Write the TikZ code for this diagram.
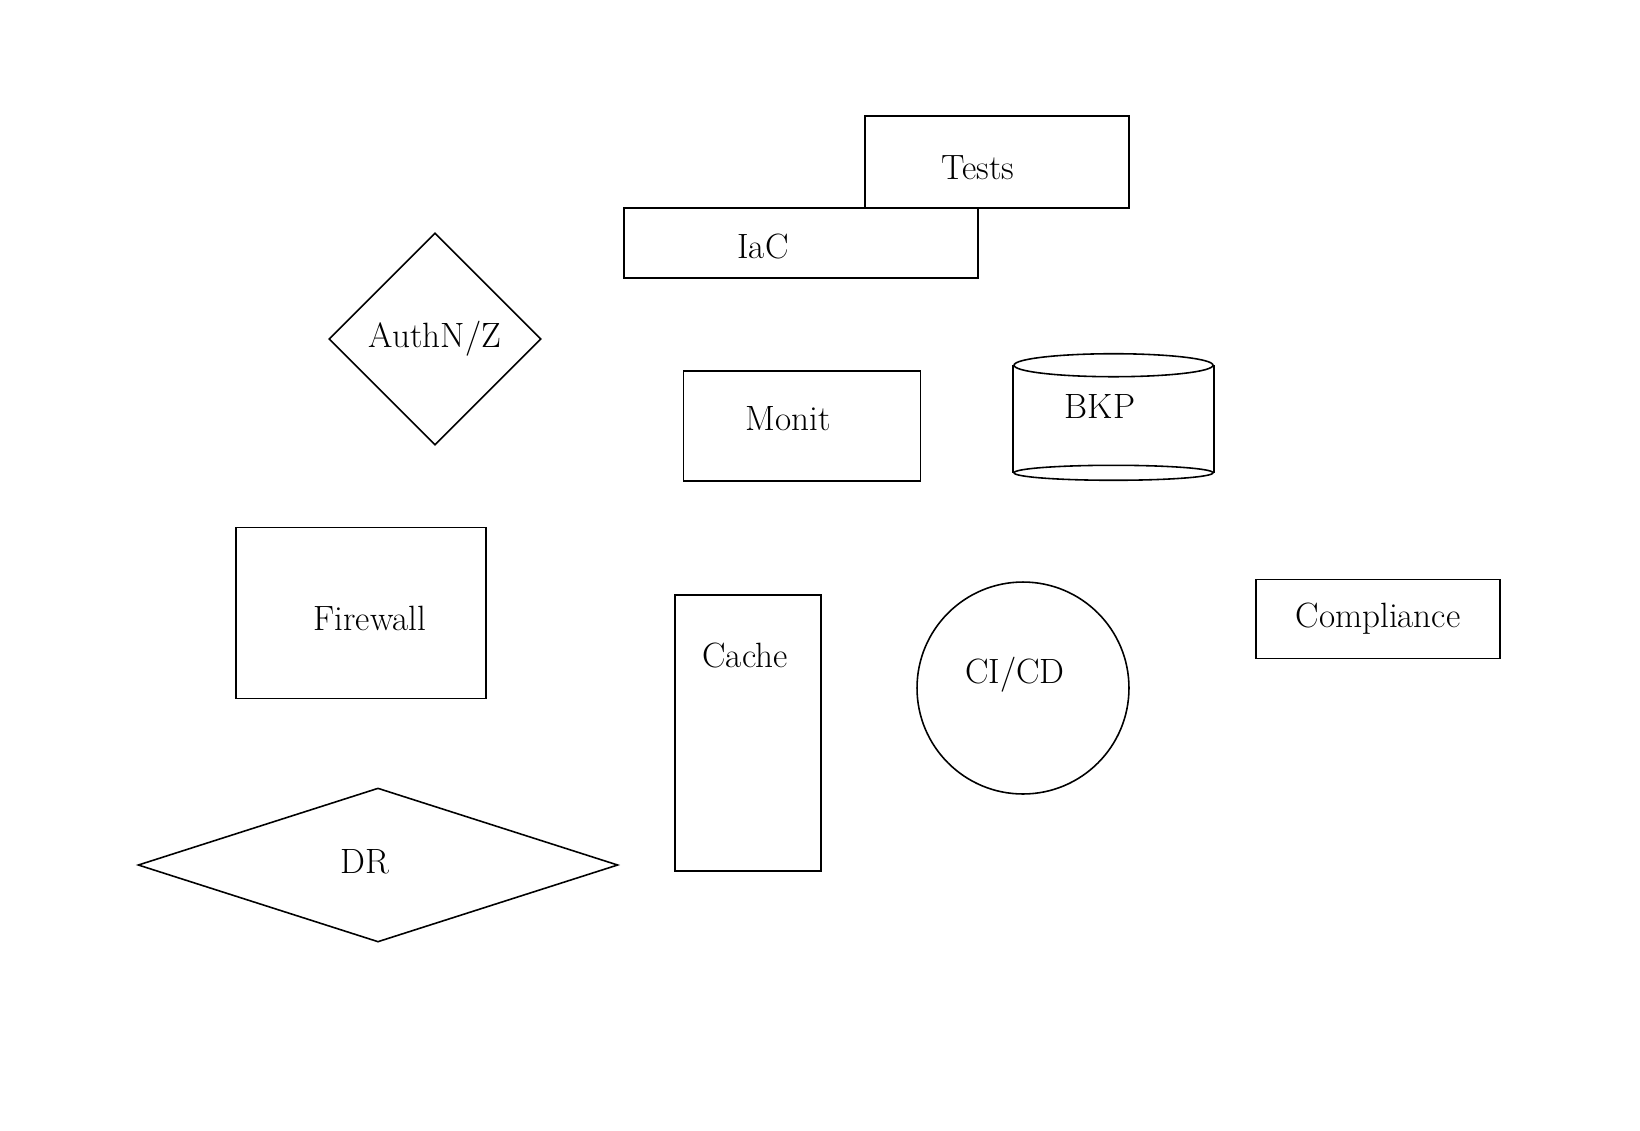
\documentclass[tikz,border=0pt]{standalone}
\usetikzlibrary{shapes.geometric}
\begin{document}
\begin{tikzpicture}[x=0.02cm, y=-0.02cm,
  every node/.style={draw, line width=0.9pt, inner sep=0pt, font=\fontsize{20}{24}\selectfont},
  every label/.style={draw=none},
  box/.style={rectangle},
  drum/.style={rectangle, draw=none},
  gem/.style={diamond}]
  \useasboundingbox[fill=white] (0,0) rectangle (1640,1130);
  \node[box, minimum width=5.28cm, minimum height=1.84cm,
    label={[xshift=-0.38cm, yshift=-0.12cm]center:Tests}] (tests) at (997,162) {};
  \node[box, minimum width=7.08cm, minimum height=1.40cm,
    label={[xshift=-0.76cm, yshift=-0.06cm]center:IaC}] (iac) at (801,243) {};
  \node[gem, minimum width=4.24cm, minimum height=4.24cm] (auth) at (435,339) {AuthN/Z};
  \node[box, minimum width=4.74cm, minimum height=2.2cm,
    label={[xshift=-0.28cm, yshift=0.14cm]center:Monit}] (monit) at (802,426) {};
  % backup drum
  \node[drum, minimum width=3.98cm, minimum height=2.12cm,
    label={[xshift=-0.27cm, yshift=0.26cm]center:BKP}] (bkp) at (1113.5,419) {};
  \draw[line width=0.9pt] (bkp.north west) -- (bkp.south west) (bkp.north east) -- (bkp.south east);
  \draw[line width=0.9pt] (bkp.north) ellipse [x radius=1.99cm, y radius=0.23cm];
  \draw[line width=0.9pt] (bkp.south) ellipse [x radius=1.99cm, y radius=0.15cm];
  \node[box, minimum width=5.0cm, minimum height=3.42cm,
    label={[xshift=0.18cm, yshift=-0.1cm]center:Firewall}] (firewall) at (361,613) {};
  \node[box, minimum width=2.92cm, minimum height=5.52cm,
    label={[xshift=-0.06cm, yshift=1.56cm]center:Cache}] (cache) at (748,733) {};
  \node[circle, minimum size=4.24cm,
    label={[xshift=-0.16cm, yshift=0.26cm]center:CI/CD}] (cicd) at (1023,688) {};
  \node[box, minimum width=4.88cm, minimum height=1.58cm] (compliance) at (1378,619) {Compliance};
  \node[gem, minimum width=9.6cm, minimum height=3.08cm,
    label={[xshift=-0.26cm, yshift=0.06cm]center:DR}] (dr) at (378,865) {};
\end{tikzpicture}
\end{document}
